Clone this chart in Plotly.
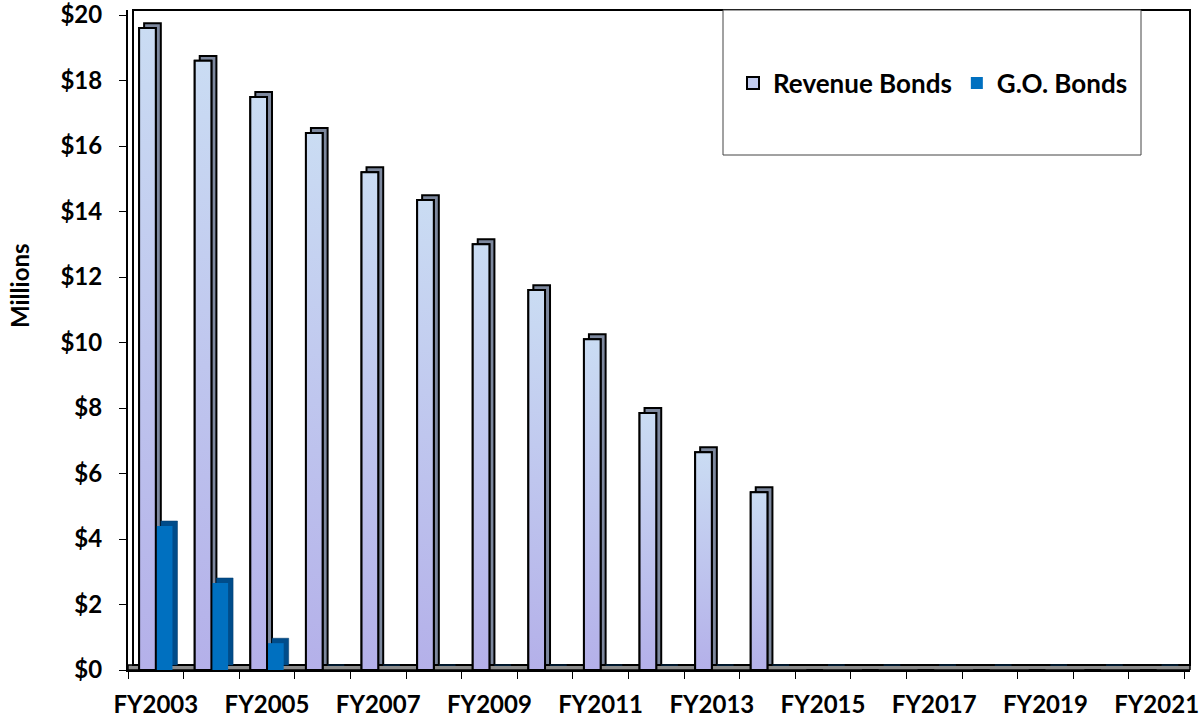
import plotly.graph_objects as go

categories = ["FY2003", "FY2004", "FY2005", "FY2006", "FY2007", "FY2008", "FY2009",
              "FY2010", "FY2011", "FY2012", "FY2013", "FY2014", "FY2015", "FY2016",
              "FY2017", "FY2018", "FY2019", "FY2020", "FY2021"]
revenue_bonds = [19.6, 18.6, 17.5, 16.4, 15.2, 14.35, 13.0, 11.6, 10.1, 7.85, 6.65, 5.43,
                 0, 0, 0, 0, 0, 0, 0]
go_bonds = [4.4, 2.66, 0.82, 0, 0, 0, 0, 0, 0, 0, 0, 0, 0, 0, 0, 0, 0, 0, 0]
y_ticks = [0, 2, 4, 6, 8, 10, 12, 14, 16, 18, 20]

xs = list(range(len(categories)))
BW = 0.30      # bar width in category units
DX = 0.09      # depth offset (x)
DY = 0.15      # depth offset (y)
FONT = "Lato"

fig = go.Figure()

# Revenue bonds: depth (side/top) then front face
fig.add_trace(go.Bar(x=xs, y=revenue_bonds, base=DY, offset=-BW + DX, width=BW,
                     marker=dict(color="#7D889E", line=dict(color="black", width=2)),
                     showlegend=False, hoverinfo="skip"))
fig.add_trace(go.Bar(x=xs, y=revenue_bonds, offset=-BW, width=BW, name="Revenue Bonds",
                     marker=dict(color="#C2CCF0", line=dict(color="black", width=2))))
# G.O. bonds
fig.add_trace(go.Bar(x=xs, y=go_bonds, base=DY, offset=DX, width=BW,
                     marker=dict(color="#004C8A", line=dict(color="#003A6B", width=0.5)),
                     showlegend=False, hoverinfo="skip"))
fig.add_trace(go.Bar(x=xs, y=go_bonds, offset=0, width=BW, name="G.O. Bonds",
                     marker=dict(color="#0070C0", line=dict(color="#0070C0", width=0))))

# vertical gradient on the revenue-bond front faces (one fill per bar, from the data)
for xi, v in zip(xs, revenue_bonds):
    if v <= 0:
        continue
    fig.add_trace(go.Scatter(
        x=[xi - BW, xi - BW, xi, xi, xi - BW], y=[0, v, v, 0, 0],
        mode="lines", fill="toself",
        fillgradient=dict(type="vertical",
                          colorscale=[[0, "#B4B0E9"], [1, "#CADCF3"]]),
        line=dict(color="black", width=2),
        showlegend=False, hoverinfo="skip"))

L, R, T, B = 128, 11, 10, 54
W, H = 1201, 724
pw = W - L - R
ph = H - T - B

shapes = [
    # floor
    dict(type="rect", xref="paper", yref="y", x0=0, x1=1, y0=0, y1=DY,
         fillcolor="#8C8C8C", line=dict(color="black", width=1.5), layer="below"),
    # back wall
    dict(type="rect", xref="paper", yref="paper", x0=5 / pw, x1=1, y0=5 / ph, y1=1,
         line=dict(color="black", width=2), layer="below"),
    # legend box
    dict(type="rect", xref="paper", yref="paper",
         x0=(723 - L) / pw, x1=(1141 - L) / pw, y0=(H - B - 155) / ph, y1=1,
         line=dict(color="#444444", width=1), fillcolor="white", layer="below"),
]

annotations = [
    dict(text="Millions", textangle=-90, xref="paper", yref="paper",
         x=(19 - L) / pw, y=(H - B - 286) / ph, xanchor="center", yanchor="middle",
         showarrow=False,
         font=dict(family=FONT, size=24, color="black", weight="bold")),
]

fig.update_layout(
    width=W, height=H,
    margin=dict(l=L, r=R, t=T, b=B, autoexpand=False),
    plot_bgcolor="white", paper_bgcolor="white",
    barmode="overlay",
    shapes=shapes,
    annotations=annotations,
    showlegend=True,
    legend=dict(orientation="h", x=(733 - L) / pw, xanchor="left",
                y=(H - B - 83) / ph, yanchor="middle",
                font=dict(family=FONT, size=26, color="black", weight="bold"),
                bgcolor="rgba(0,0,0,0)", itemwidth=30, traceorder="normal"),
    xaxis=dict(range=[-0.5, 18.6], tickmode="array", tickvals=xs[::2],
               ticktext=categories[::2], ticks="", showline=True,
               linecolor="black", linewidth=2, showgrid=False, zeroline=False,
               tickfont=dict(family=FONT, size=24, color="black", weight="bold"),
               ticklabelstandoff=12, ticklabeloverflow="allow",
               minor=dict(tickmode="linear", tick0=-0.5, dtick=1, ticks="outside",
                          ticklen=7, tickcolor="black", tickwidth=1, showgrid=False)),
    yaxis=dict(range=[0, 20 + 5 / 32.75], tickvals=y_ticks,
               ticktext=[f"${v}" for v in y_ticks], ticks="outside", ticklen=7,
               tickcolor="black", showline=True, linecolor="black", linewidth=2,
               showgrid=False, zeroline=False, ticklabelstandoff=12,
               ticklabeloverflow="allow",
               tickfont=dict(family=FONT, size=24, color="black", weight="bold")),
)

fig.write_html("out.html", config={"displayModeBar": False},
               post_script="document.body.style.margin='0';document.body.style.padding='0';")
